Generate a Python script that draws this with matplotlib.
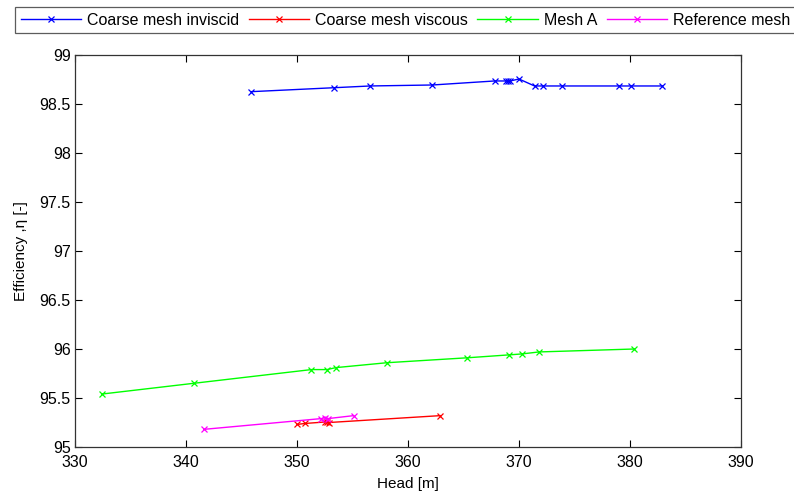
import numpy as np
import matplotlib
matplotlib.use('Agg')
import matplotlib.pyplot as plt

plt.rcParams['font.family'] = ['Liberation Sans', 'DejaVu Sans']
plt.rcParams['font.size'] = 11

# data
inv_head = [345.9, 353.3, 356.6, 362.2, 367.8, 368.8, 369.0, 369.2, 370.0, 371.4, 372.2, 373.9, 379.0, 380.1, 382.9]
inv_eff = [98.626, 98.666, 98.684, 98.694, 98.735, 98.735, 98.735, 98.735, 98.755, 98.684, 98.684, 98.684, 98.684, 98.684, 98.684]

visc_head = [350.0, 350.7, 352.5, 352.7, 352.9, 362.9]
visc_eff = [95.23, 95.24, 95.255, 95.255, 95.25, 95.32]

meshA_head = [332.4, 340.7, 351.3, 352.7, 353.5, 358.1, 365.3, 369.1, 370.3, 371.8, 380.4]
meshA_eff = [95.54, 95.65, 95.79, 95.79, 95.81, 95.86, 95.91, 95.94, 95.95, 95.97, 96.00]

ref_head = [341.6, 352.2, 352.5, 352.8, 355.1]
ref_eff = [95.18, 95.29, 95.30, 95.29, 95.32]

fig = plt.figure(figsize=(7.94, 4.96), dpi=100)
ax = fig.add_axes([75/794, 1-447/496, 666/794, 392/496])

kw = dict(marker='x', markersize=5, linewidth=1.0, markeredgewidth=0.9)
ax.plot(inv_head, inv_eff, color='#0000ff', label='Coarse mesh inviscid', **kw)
ax.plot(visc_head, visc_eff, color='#ff0000', label='Coarse mesh viscous', **kw)
ax.plot(meshA_head, meshA_eff, color='#00ff00', label='Mesh A', **kw)
ax.plot(ref_head, ref_eff, color='#ff00ff', label='Reference mesh', **kw)

ax.set_xlim(330, 390)
ax.set_ylim(95, 99)
ax.set_xticks(np.arange(330, 391, 10))
ax.set_yticks(np.arange(95, 99.01, 0.5))
ax.set_yticklabels(['95', '95.5', '96', '96.5', '97', '97.5', '98', '98.5', '99'])
ax.tick_params(direction='in', top=True, right=True, length=5, width=0.8,
               labelsize=11.5)
ax.tick_params(axis='x', pad=6)
ax.tick_params(axis='y', pad=3)
for s in ax.spines.values():
    s.set_color('#333333')
    s.set_linewidth(0.9)
ax.set_xlabel('Head [m]', fontsize=11, labelpad=5)
ax.set_ylabel('Efficiency ,η [-]', fontsize=11, labelpad=8)

leg = fig.legend(loc='upper left', bbox_to_anchor=(15/794, 1-7/496), ncol=4,
                 fontsize=11.5, frameon=True, fancybox=False, edgecolor='#333333',
                 handlelength=3.8, handletextpad=0.35, columnspacing=0.6,
                 borderpad=0.35, borderaxespad=0)
leg.get_frame().set_linewidth(0.9)

fig.savefig('out.png', dpi=100)
